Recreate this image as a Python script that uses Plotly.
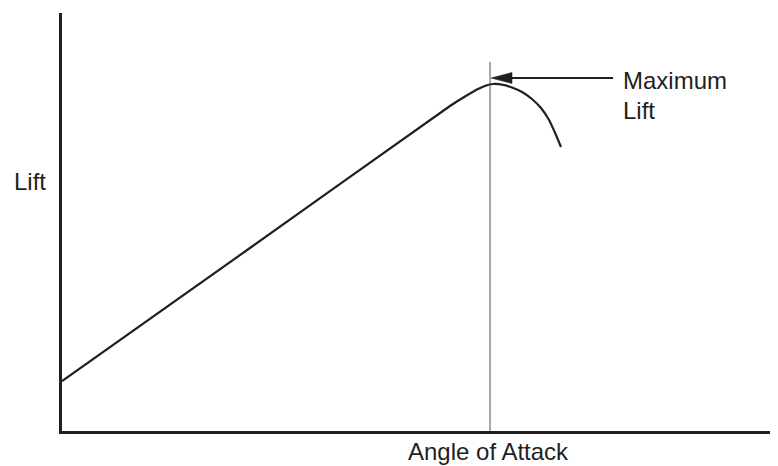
import plotly.graph_objects as go

# ---- data (angle of attack vs lift, arbitrary units) ----
angle = [0, 26.44, 54.57, 56.68, 58.51, 59.77, 60.62, 61.88, 63.29, 64.70, 66.10, 67.37, 68.50, 69.48, 70.18]
lift = [11.96, 43.78, 77.75, 80.02, 81.82, 82.73, 83.01, 82.87, 82.18, 81.10, 79.43, 77.27, 74.40, 70.81, 67.94]
stall_angle = 60.2
stall_line_top = 88.3
arrow_y = 84.45
arrow_tip_x = 60.34
arrow_tail_x = 77.5
label_max_1 = "Maximum"
label_max_2 = "Lift"
label_x = "Angle of Attack"
label_y = "Lift"

# ---- layout constants ----
OFF = 8  # default page body margin
W, H = 778 - OFF, 466 - OFF
L, R, T, B = 62 - OFF, 5, 13 - OFF, 35
pw, ph = W - L - R, H - T - B
INK = "#231f20"
FONT = "Liberation Sans, Arial, Helvetica, sans-serif"
FS = 24

def px_x(px):
    return (px - OFF - L) / pw

def px_y(py):
    return (H - B - (py - OFF)) / ph

fig = go.Figure()

# stall line
fig.add_trace(go.Scatter(x=[stall_angle, stall_angle], y=[0, stall_line_top], mode="lines",
                         line=dict(color="#a7a9ac", width=2), hoverinfo="skip"))
# lift curve
fig.add_trace(go.Scatter(x=angle, y=lift, mode="lines",
                         line=dict(color=INK, width=2.2, shape="spline", smoothing=0.6),
                         hoverinfo="skip"))
# arrow shaft
head_len = 21 * 100 / pw
head_half = 5.5 * 100 / ph
fig.add_trace(go.Scatter(x=[arrow_tip_x + head_len * 0.8, arrow_tail_x], y=[arrow_y, arrow_y], mode="lines",
                         line=dict(color=INK, width=2), hoverinfo="skip"))
# arrow head (derived from tip position)
fig.add_trace(go.Scatter(x=[arrow_tip_x, arrow_tip_x + head_len, arrow_tip_x + head_len, arrow_tip_x],
                         y=[arrow_y, arrow_y + head_half, arrow_y - head_half, arrow_y],
                         mode="lines", fill="toself", fillcolor=INK,
                         line=dict(color=INK, width=0.5), hoverinfo="skip"))

def txt(t, x, y, xanchor="left"):
    return dict(text=t, xref="paper", yref="paper", x=px_x(x), y=px_y(y),
                xanchor=xanchor, yanchor="middle", showarrow=False,
                font=dict(size=FS, family=FONT, color=INK))

fig.update_layout(
    width=W, height=H,
    margin=dict(l=L, r=R, t=T, b=B),
    paper_bgcolor="white", plot_bgcolor="white",
    showlegend=False,
    font=dict(family=FONT, color=INK, size=FS),
    xaxis=dict(range=[0, 100], showgrid=False, zeroline=False, showticklabels=False, ticks="",
               showline=True, linecolor=INK, linewidth=2.5, fixedrange=True),
    yaxis=dict(range=[0, 100], showgrid=False, zeroline=False, showticklabels=False, ticks="",
               showline=True, linecolor=INK, linewidth=2.5, fixedrange=True),
    annotations=[
        txt(label_max_1, 621, 80.5),
        txt(label_max_2, 621, 110),
        txt(label_y, 12, 181),
        txt(label_x, 489, 451, xanchor="center"),
    ],
)

fig.write_html("out.html")
